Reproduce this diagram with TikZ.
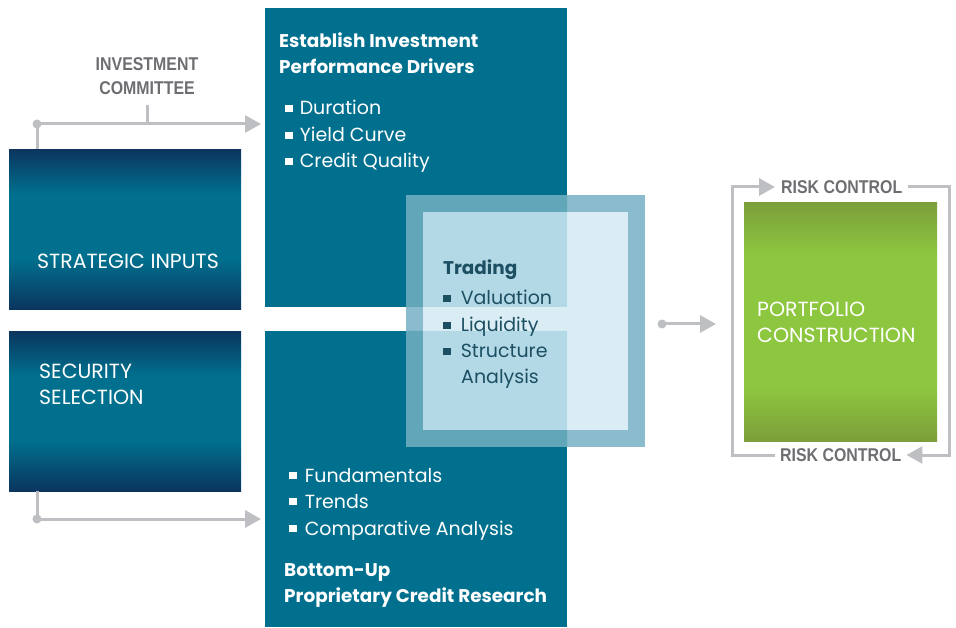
\documentclass[tikz,border=0pt]{standalone}
\usepackage{fontspec}
\setmainfont{Poppins}
\newfontfamily\labelfont[FakeStretch=0.86]{Liberation Sans}
\usetikzlibrary{arrows.meta,calc}
\definecolor{teal}{HTML}{00708E}
\definecolor{navy}{HTML}{0B355F}
\definecolor{gdark}{HTML}{7C9E3A}
\definecolor{glight}{HTML}{8DC63F}
\definecolor{outerw}{HTML}{8ABCCD}
\definecolor{outert}{HTML}{62A7B9}
\definecolor{innerw}{HTML}{DAEDF5}
\definecolor{innert}{HTML}{B4D9E6}
\definecolor{lgray}{HTML}{BEBFC3}
\definecolor{tgray}{HTML}{6D6E71}
\definecolor{tdark}{HTML}{1D4F63}
\pgfdeclareverticalshading{bluegrad}{100bp}{color(0bp)=(navy); color(25bp)=(navy); color(41bp)=(teal); color(61bp)=(teal); color(75bp)=(navy); color(100bp)=(navy)}
\pgfdeclareverticalshading{greengrad}{100bp}{color(0bp)=(gdark); color(25bp)=(gdark); color(36bp)=(glight); color(64bp)=(glight); color(75bp)=(gdark); color(100bp)=(gdark)}
\newcommand{\mysq}{\rule[0.15em]{0.4em}{0.4em}}
\begin{document}
\begin{tikzpicture}[x=1pt,y=-1pt,
  boxbase/.style={draw=none,inner sep=0,anchor=north west},
  tealbox/.style={boxbase,fill=teal},
  bluebox/.style={boxbase,shading=bluegrad},
  greenbox/.style={boxbase,shading=greengrad},
  txt/.style={inner sep=0,anchor=base west,font=\fontsize{19}{24}\selectfont},
  headtxt/.style={inner sep=0,anchor=base west,font=\fontsize{18.4}{24}\selectfont\bfseries},
  captxt/.style={inner sep=0,anchor=base west,text=white,font=\fontsize{20.5}{24}\selectfont},
  glabel/.style={inner sep=0,text=tgray,font=\labelfont\fontsize{18.5}{24}\selectfont\bfseries},
  gline/.style={draw=lgray,line width=3pt},
  garrow/.style={gline,-{Triangle[length=16pt,width=17pt]}},
  gdot/.style={fill=lgray,draw=none},
]
\useasboundingbox (0,0) rectangle (956,628);
% boxes
\node[bluebox,minimum width=232,minimum height=160] (strat) at (9,149) {};
\node[bluebox,minimum width=232,minimum height=160] (secsel) at (9,331) {};
\node[tealbox,minimum width=302,minimum height=299] (drivers) at (265,8) {};
\node[tealbox,minimum width=302,minimum height=296] (research) at (265,331) {};
\node[greenbox,minimum width=193,minimum height=239] (green) at (744,202) {};
% trading overlay
\node[boxbase,fill=outerw,minimum width=239,minimum height=252] (outer) at (406,195) {};
\begin{scope}
  \clip (265,8) rectangle (567,307) (265,331) rectangle (567,627);
  \fill[outert] (406,195) rectangle (645,447);
\end{scope}
\node[boxbase,fill=innerw,minimum width=205,minimum height=218] (inner) at (423,212) {};
\begin{scope}
  \clip (265,8) rectangle (567,307) (265,331) rectangle (567,627);
  \fill[innert] (423,212) rectangle (628,430);
\end{scope}
% box texts
\node[captxt] (t1) at (37,269) {STRATEGIC INPUTS};
\node[captxt] (t2) at (39,378) {SECURITY};
\node[captxt] (t3) at (39,404) {SELECTION};
\node[captxt] (t4) at (757,317) {PORTFOLIO};
\node[captxt] (t5) at (757,343) {CONSTRUCTION};
% drivers
\node[headtxt,text=white] (d0) at (279,48) {Establish Investment};
\node[headtxt,text=white] (d1) at (279,74) {Performance Drivers};
\node[txt,text=white] (d2) at (285,115) {\mysq\hspace{7pt}Duration};
\node[txt,text=white] (d3) at (285,142) {\mysq\hspace{7pt}Yield Curve};
\node[txt,text=white] (d4) at (285,168) {\mysq\hspace{7pt}Credit Quality};
% research
\node[txt,text=white] (r1) at (289,482) {\mysq\hspace{8pt}Fundamentals};
\node[txt,text=white] (r2) at (289,508) {\mysq\hspace{8pt}Trends};
\node[txt,text=white] (r3) at (289,535) {\mysq\hspace{8pt}Comparative Analysis};
\node[headtxt,text=white] (r4) at (284,576) {Bottom-Up};
\node[headtxt,text=white] (r5) at (284,602) {Proprietary Credit Research};
% trading
\node[headtxt,text=tdark] (k0) at (443,275) {Trading};
\node[txt,text=tdark] (k1) at (443,305) {\mysq\hspace{10pt}Valuation};
\node[txt,text=tdark] (k2) at (443,332) {\mysq\hspace{10pt}Liquidity};
\node[txt,text=tdark] (k3) at (443,358) {\mysq\hspace{10pt}Structure};
\node[txt,text=tdark] (k4) at (461,383) {Analysis};
% investment committee
\node[glabel,align=center] (ic) at (147,76) {INVESTMENT\\COMMITTEE};
\coordinate (dot1) at (37,124);
\coordinate (dot2) at (37,519);
\coordinate (dot3) at (662,324);
\draw[gline] ([yshift=-10pt]ic.south) -- (ic.south |- dot1);
\draw[gline] (dot1) -- (dot1 |- strat.north);
\draw[garrow,shorten >=4pt] (dot1) -- (drivers.west |- dot1);
\fill[gdot] (dot1) circle (4.5);
\draw[gline] (dot2 |- secsel.south) -- (dot2);
\draw[garrow,shorten >=4pt] (dot2) -- (research.west |- dot2);
\fill[gdot] (dot2) circle (4.5);
\draw[garrow,shorten >=28pt] (dot3) -- (green.west |- dot3);
\fill[gdot] (dot3) circle (4.5);
% risk control
\node[glabel,anchor=west,inner xsep=6pt] (rcTop) at (775,187) {RISK CONTROL};
\node[glabel,anchor=west,inner xsep=5pt] (rcBot) at (775,455) {RISK CONTROL};
\coordinate (rcL) at (732,320);
\coordinate (rcR) at (949,320);
\draw[garrow] (rcBot.west) -- (rcL |- rcBot.west) |- (rcTop.west);
\draw[garrow] (rcTop.east) -- (rcR |- rcTop.east) |- (rcBot.east);
\end{tikzpicture}
\end{document}
